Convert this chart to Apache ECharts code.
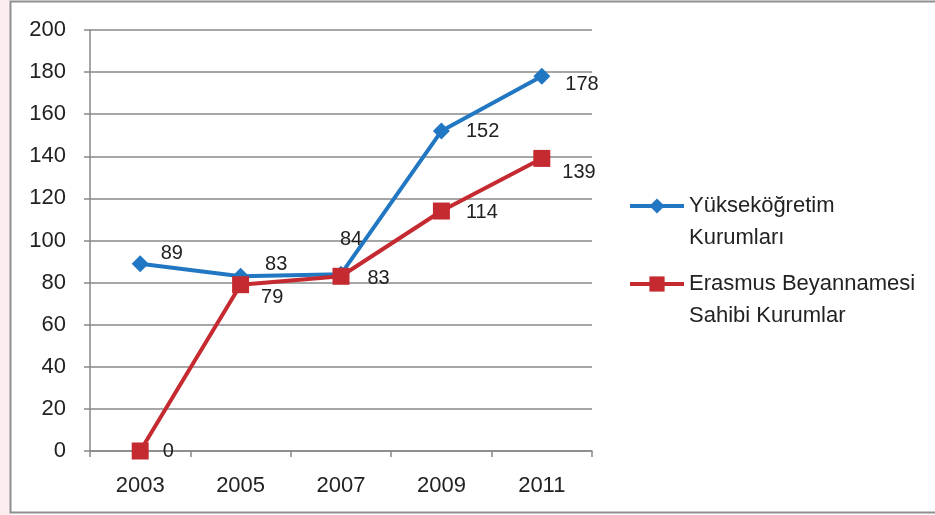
<!DOCTYPE html>
<html><head><meta charset="utf-8">
<script src="https://cdn.jsdelivr.net/npm/echarts@6/dist/echarts.min.js"></script>
<style>html,body{margin:0;padding:0;background:#fff}#c{width:935px;height:515px}</style>
</head><body><div id="c"></div>
<script>
const categories = ['2003','2005','2007','2009','2011'];
const seriesNames = ['Yükseköğretim\nKurumları','Erasmus Beyannamesi\nSahibi Kurumlar'];
const yuksekogretim = [89, 83, 84, 152, 178];
const erasmus = [0, 79, 83, 114, 139];
const yTicks = [0, 20, 40, 60, 80, 100, 120, 140, 160, 180, 200];

const FONT = 'Liberation Sans';
const blueLabelPos = [
  {position:'right', offset:[0,-10]},
  {position:'right', offset:[4,-12]},
  {position:'top', offset:[10,-4]},
  {position:'right', offset:[4,0]},
  {position:'right', offset:[3,8]}
];
const redLabelPos = [
  {position:'right', offset:[2,0]},
  {position:'right', offset:[0,13]},
  {position:'right', offset:[6,2]},
  {position:'right', offset:[4,1]},
  {position:'right', offset:[0,14]}
];
function mk(vals, pos){ return vals.map((v,i)=>({value:v, label:pos[i]})); }

const chart = echarts.init(document.getElementById('c'));
chart.setOption({
  animation:false,
  textStyle:{fontFamily:FONT},
  grid:{left:90, right:343, top:30, bottom:64},
  graphic:[
    {type:'rect', shape:{x:0,y:0,width:10,height:515}, style:{fill:'#fcedf0'}, z:-2},
    {type:'rect', shape:{x:10.5,y:1.5,width:940,height:511}, style:{fill:'none', stroke:'#8f8f8f', lineWidth:2}, z:-1}
  ],
  legend:{
    orient:'vertical', left:623, top:158, itemGap:-8, itemWidth:54, itemHeight:19,
    formatter: name => '{s| }\n{t|' + name.split('\n').join('}\n{t|') + '}',
    textStyle:{fontSize:22, color:'#222', fontFamily:FONT,
      rich:{
        s:{fontSize:22, lineHeight:32, fontFamily:FONT},
        t:{fontSize:22, lineHeight:32, color:'#222', fontFamily:FONT}
      }},
    lineStyle:{width:4},
    data:seriesNames
  },
  xAxis:{
    type:'category', data:categories, boundaryGap:true,
    axisLine:{lineStyle:{color:'#888', width:1.5}},
    axisTick:{show:true, length:6, lineStyle:{color:'#888', width:1.5}},
    axisLabel:{fontSize:22, color:'#222', margin:24, fontFamily:FONT}
  },
  yAxis:{
    type:'value', min:yTicks[0], max:yTicks[yTicks.length-1], interval:20,
    axisLine:{show:true, lineStyle:{color:'#888', width:1.5}},
    axisTick:{show:true, length:6, lineStyle:{color:'#888', width:1.5}},
    splitLine:{lineStyle:{color:'#888', width:1.5}},
    axisLabel:{fontSize:22, color:'#222', margin:24, fontFamily:FONT}
  },
  series:[
    {name:seriesNames[0], type:'line', data:mk(yuksekogretim, blueLabelPos),
     symbol:'diamond', symbolSize:17, lineStyle:{width:4, color:'#2277c3'},
     itemStyle:{color:'#2277c3'},
     label:{show:true, fontSize:20, color:'#222', distance:12, fontFamily:FONT}},
    {name:seriesNames[1], type:'line', data:mk(erasmus, redLabelPos),
     symbol:'rect', symbolSize:17, lineStyle:{width:4, color:'#c42a30'},
     itemStyle:{color:'#c42a30'},
     label:{show:true, fontSize:20, color:'#222', distance:12, fontFamily:FONT}}
  ]
});
</script></body></html>
